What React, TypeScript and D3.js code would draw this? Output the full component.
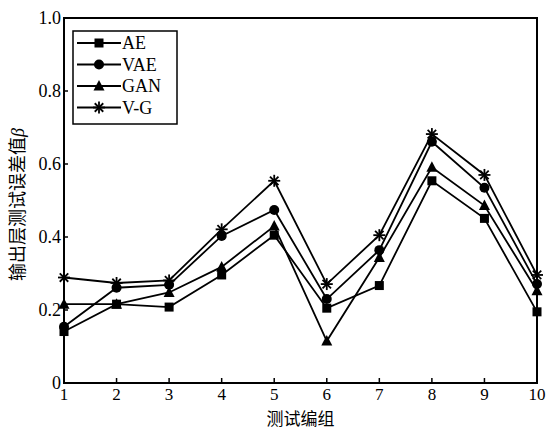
import React, { useEffect, useRef } from 'react';
import * as d3 from 'd3';

const groups = [1, 2, 3, 4, 5, 6, 7, 8, 9, 10];
const aeValues = [0.141, 0.216, 0.208, 0.296, 0.405, 0.205, 0.267, 0.554, 0.451, 0.195];
const vaeValues = [0.154, 0.261, 0.269, 0.403, 0.474, 0.23, 0.364, 0.661, 0.535, 0.271];
const ganValues = [0.216, 0.216, 0.248, 0.318, 0.43, 0.115, 0.344, 0.591, 0.486, 0.253];
const vgValues = [0.289, 0.274, 0.281, 0.421, 0.554, 0.271, 0.405, 0.682, 0.57, 0.296];
const seriesNames = ['AE', 'VAE', 'GAN', 'V-G'];
const markers = ['square', 'circle', 'triangle', 'asterisk'];
const yTicks = [0, 0.2, 0.4, 0.6, 0.8, 1.0];

const W = 552;
const H = 430;
const margin = { left: 64, right: 15, top: 18, bottom: 47 };

const drawMarker = (g: any, type: string, x: number, y: number) => {
  if (type === 'square') {
    g.append('rect').attr('x', x - 4.5).attr('y', y - 4.5).attr('width', 9).attr('height', 9).attr('fill', '#000');
  } else if (type === 'circle') {
    g.append('circle').attr('cx', x).attr('cy', y).attr('r', 5).attr('fill', '#000');
  } else if (type === 'triangle') {
    g.append('path').attr('d', `M${x},${y - 6}L${x + 5.5},${y + 4.5}L${x - 5.5},${y + 4.5}Z`).attr('fill', '#000');
  } else {
    const r = 6;
    [0, 45, 90, 135].forEach(a => {
      const rad = (a * Math.PI) / 180;
      g.append('line')
        .attr('x1', x - r * Math.cos(rad)).attr('y1', y - r * Math.sin(rad))
        .attr('x2', x + r * Math.cos(rad)).attr('y2', y + r * Math.sin(rad))
        .attr('stroke', '#000').attr('stroke-width', 1.8);
    });
  }
};

const App = () => {
  const ref = useRef<SVGSVGElement>(null);

  useEffect(() => {
    const svg = d3.select(ref.current);
    svg.selectAll('*').remove();

    const x = d3.scaleLinear().domain([1, 10]).range([margin.left, W - margin.right]);
    const y = d3.scaleLinear().domain([0, 1]).range([H - margin.bottom, margin.top]);
    const font = '"Liberation Serif", "Times New Roman", serif';

    // frame
    svg.append('rect')
      .attr('x', x(1)).attr('y', y(1))
      .attr('width', x(10) - x(1)).attr('height', y(0) - y(1))
      .attr('fill', 'none').attr('stroke', '#000').attr('stroke-width', 2);

    // x ticks (inward)
    groups.forEach(d => {
      svg.append('line').attr('x1', x(d)).attr('x2', x(d))
        .attr('y1', y(0)).attr('y2', y(0) - 5).attr('stroke', '#000').attr('stroke-width', 1.5);
      svg.append('text').attr('x', x(d)).attr('y', y(0) + 17)
        .attr('text-anchor', 'middle').attr('font-family', font).attr('font-size', 17).text(d);
    });

    // y ticks
    yTicks.forEach(d => {
      svg.append('line').attr('x1', x(1)).attr('x2', x(1) + 4)
        .attr('y1', y(d)).attr('y2', y(d)).attr('stroke', '#000').attr('stroke-width', 1.5);
      svg.append('text').attr('x', x(1) - 3).attr('y', y(d) + 6)
        .attr('text-anchor', 'end').attr('font-family', font).attr('font-size', 18)
        .text(d === 0 ? '0' : d.toFixed(1));
    });

    // axis titles
    svg.append('text').attr('x', (x(1) + x(10)) / 2).attr('y', 425)
      .attr('text-anchor', 'middle').attr('font-family', '"Noto Sans CJK SC", sans-serif')
      .attr('font-size', 17).text('测试编组');
    const yt = svg.append('text')
      .attr('transform', `translate(24, ${y(0.5) + 4}) rotate(-90)`)
      .attr('text-anchor', 'middle').attr('font-family', '"Noto Sans CJK SC", sans-serif')
      .attr('font-size', 18);
    yt.append('tspan').text('输出层测试误差值');
    yt.append('tspan').attr('font-family', font).attr('font-style', 'italic').text('β');

    const allSeries = [aeValues, vaeValues, ganValues, vgValues];
    const line = d3.line<number>().x((_, i) => x(groups[i])).y(v => y(v));

    allSeries.forEach((vals, si) => {
      const g = svg.append('g');
      g.append('path').attr('d', line(vals)).attr('fill', 'none')
        .attr('stroke', '#000').attr('stroke-width', 1.8);
      vals.forEach((v, i) => drawMarker(g, markers[si], x(groups[i]), y(v)));
    });

    // legend
    const lg = svg.append('g');
    lg.append('rect').attr('x', 73).attr('y', 31).attr('width', 104).attr('height', 93)
      .attr('fill', '#fff').attr('stroke', '#000').attr('stroke-width', 1.5);
    seriesNames.forEach((name, i) => {
      const ly = 43 + i * 21.5;
      lg.append('line').attr('x1', 77).attr('x2', 121).attr('y1', ly).attr('y2', ly)
        .attr('stroke', '#000').attr('stroke-width', 1.8);
      drawMarker(lg, markers[i], 99, ly);
      lg.append('text').attr('x', 122).attr('y', ly + 6).attr('font-family', font)
        .attr('font-size', 18).text(name);
    });
  }, []);

  return (
    <svg ref={ref} width={W} height={H} style={{ position: 'absolute', left: 0, top: 0, background: '#fff' }} />
  );
};

export default App;
